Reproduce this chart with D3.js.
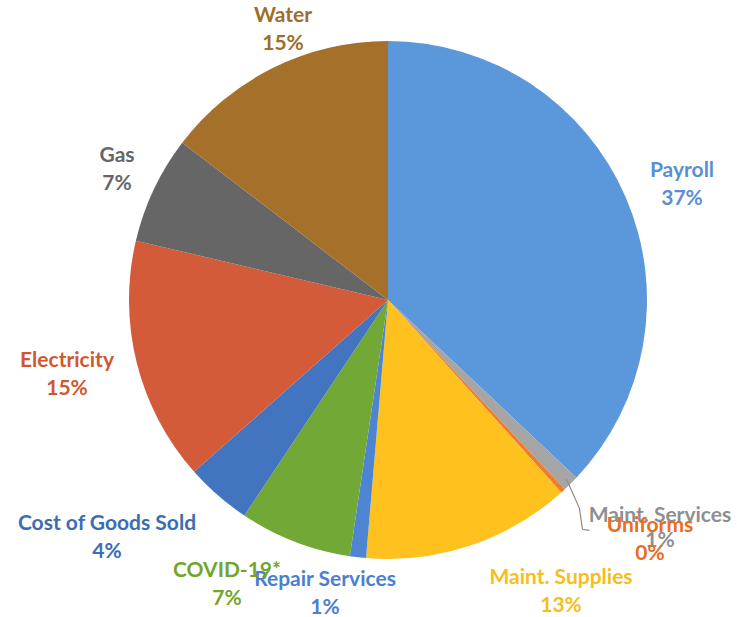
<!DOCTYPE html>
<html>
<head>
<meta charset="utf-8">
<script src="https://cdn.jsdelivr.net/npm/d3@7"></script>
<style>
  html, body { margin: 0; padding: 0; background: #ffffff; }
  svg { display: block; }
  .lbl { font-family: Lato, "Open Sans", sans-serif; font-weight: 700; }
</style>
</head>
<body>
<svg id="chart" width="737" height="617"></svg>
<script>
// Expense categories, clockwise from 12 o'clock
const categories = [
  "Payroll", "Maint. Services", "Uniforms", "Maint. Supplies", "Repair Services",
  "COVID-19*", "Cost of Goods Sold", "Electricity", "Gas", "Water"
];
// Share of total spending (percent)
const shares = [37.0, 1.0, 0.3, 13.0, 1.0, 7.0, 4.1, 15.2, 6.7, 14.6];

// Slice and label colours
const sliceColors = [
  "#5b97db", "#a5a5a5", "#ed7d31", "#ffc11e", "#4d85d3",
  "#72a936", "#4274c0", "#d35b3a", "#666666", "#a5712a"
];
const textColors = [
  "#5a8fd6", "#8f8f8f", "#ec6c1e", "#f6bd1c", "#4a80d0",
  "#74a52a", "#3b6db6", "#d0572f", "#666666", "#a06d28"
];

// Label anchors relative to the pie centre: [dx, dy] of the name line
const labelAnchors = [
  [294, -130], [272, 215], [262, 225], [173, 277], [-63, 279],
  [-161, 270], [-281, 223], [-321, 60], [-271, -145], [-105, -285]
];

const cx = 388, cy = 300, radius = 259, lineGap = 28, fontSize = 21;

const svg = d3.select("#chart");
const g = svg.append("g").attr("transform", `translate(${cx},${cy})`);

const data = categories.map((name, i) => ({ name, value: shares[i], i }));
const total = d3.sum(shares);

const pie = d3.pie().sort(null).value(d => d.value).startAngle(0).endAngle(2 * Math.PI);
const arc = d3.arc().innerRadius(0).outerRadius(radius);
const arcs = pie(data);

g.selectAll("path.slice")
  .data(arcs)
  .join("path")
  .attr("class", "slice")
  .attr("d", arc)
  .attr("fill", d => sliceColors[d.data.i]);

// Leader line for the two thin slices on the lower right
const thin = arcs[1];
const edge = d3.arc().innerRadius(radius - 6).outerRadius(radius - 6).centroid(thin);
const leader = [
  edge,
  [edge[0] + 13, edge[1] + 29],
  [edge[0] + 16, edge[1] + 50],
  [edge[0] + 23, edge[1] + 51]
];
g.append("path")
  .attr("d", d3.line()(leader))
  .attr("fill", "none")
  .attr("stroke", "#8c8c8c")
  .attr("stroke-width", 1.2);

// Two-line data labels: category name and rounded percentage
const isLight = d => d.data.name === "Maint. Services";
const labels = g.selectAll("g.label")
  .data(arcs)
  .join("g")
  .attr("class", "label")
  .attr("transform", d => `translate(${labelAnchors[d.data.i][0]},${labelAnchors[d.data.i][1]})`);

labels.append("text")
  .attr("class", "lbl")
  .attr("text-anchor", "middle")
  .attr("dy", "0.35em")
  .attr("font-size", fontSize)
  .attr("font-weight", d => isLight(d) ? 400 : 700)
  .attr("fill", d => textColors[d.data.i])
  .text(d => d.data.name);

labels.append("text")
  .attr("class", "lbl")
  .attr("text-anchor", "middle")
  .attr("y", d => isLight(d) ? 25 : lineGap)
  .attr("dy", "0.35em")
  .attr("font-size", fontSize)
  .attr("font-weight", d => isLight(d) ? 400 : 700)
  .attr("fill", d => textColors[d.data.i])
  .text(d => Math.round(d.data.value / total * 100) + "%");

// Uniforms label sits on top of the Maint. Services label
labels.filter(d => d.data.name === "Uniforms").raise();
</script>
</body>
</html>
